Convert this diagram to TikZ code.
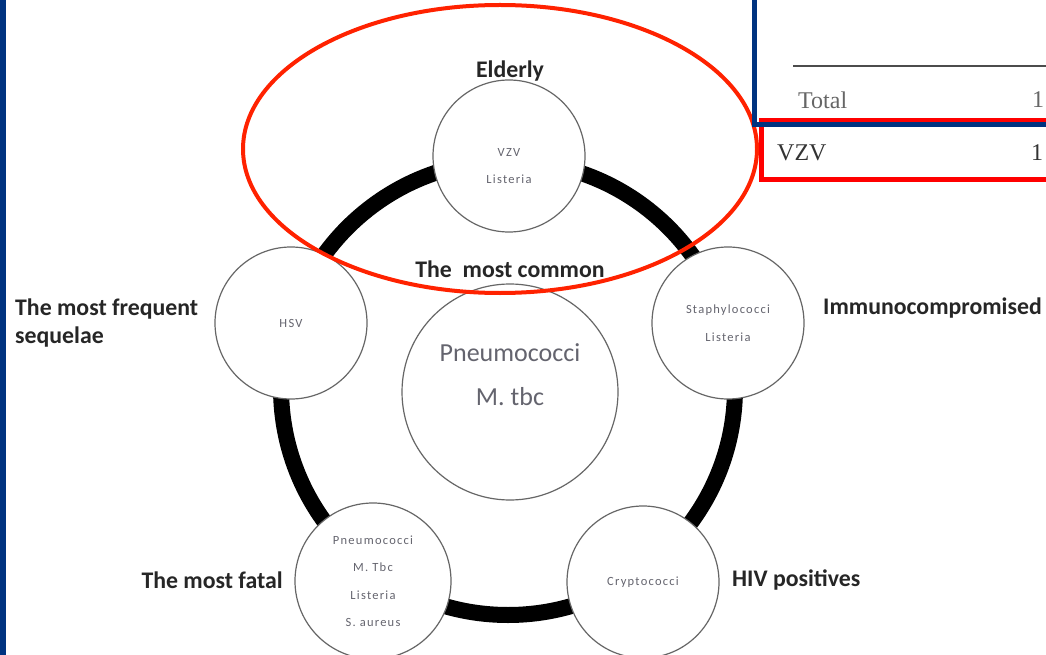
\documentclass[tikz,border=0pt]{standalone}
\usepackage{fontspec}
\setmainfont{Carlito}
\newfontfamily\tabfont{Liberation Serif}
\newfontfamily\smallfont[LetterSpace=10]{Carlito}
\definecolor{navy}{RGB}{0,51,128}
\definecolor{ellred}{RGB}{255,34,0}
\definecolor{boxred}{RGB}{255,0,0}
\definecolor{intext}{RGB}{100,100,110}
\begin{document}
\begin{tikzpicture}[x=1pt,y=-1pt,
  bub/.style={circle,draw=black!60,line width=1.2pt,fill=white,inner sep=0pt,minimum size=152pt,
    text=intext,align=center,font=\smallfont\fontsize{12.5}{27.5}\selectfont},
  bubtext/.style={text=intext,align=center,inner sep=0pt,font=\smallfont\fontsize{12.5}{27.5}\selectfont},
  bigbub/.style={bub,minimum size=216pt},
  lab/.style={font=\fontsize{23.8}{28}\bfseries\selectfont,text=black!85,inner sep=0pt},
  tab/.style={font=\tabfont\fontsize{24}{28}\selectfont,inner sep=0pt}]
\useasboundingbox (0,0) rectangle (1046,655);
\fill[white] (0,0) rectangle (1046,655);
% navy left border
\fill[navy] (0,0) rectangle (6,655);
% ring
\coordinate (ctr) at (508,388);
\draw[line width=16pt,black] (ctr) circle[radius=227];
% bubbles
\node[bub] (top) at (509,156) {};
\node[bubtext] (toptext) at (509,166) {VZV\\Listeria};
\node[bub] (rgt) at (728,323) {Staphylococci\\Listeria};
\node[bub] (brt) at (643,582) {Cryptococci};
\node[bub,minimum size=156pt] (blf) at (373,581) {Pneumococci\\M. Tbc\\Listeria\\S. aureus};
\node[bub] (lft) at (291,323) {HSV};
\node[bigbub] (mid) at (510,392) {};
\node[text=intext,font=\fontsize{26}{44}\selectfont,align=center,anchor=center] (midtext) at (510,375) {Pneumococci\\M. tbc};
% labels
\node[lab] (lelder) at (510,71) {Elderly};
\node[lab] (lcommon) at (510,269) {The\ \ most common};
\node[lab,anchor=west,align=left] (lseq) at (15,323) {The most frequent\\sequelae};
\node[lab,anchor=west] (limm) at (823,308) {Immunocompromised};
\node[lab,anchor=west] (lhiv) at (732,580) {HIV positives};
\node[lab,anchor=east] (lfatal) at (283,580) {The most fatal};
% red ellipse
\draw[ellred,line width=4pt] (500,149) ellipse[x radius=257,y radius=144];
% table fragment
\coordinate (ruleL) at (793,66);
\coordinate (ruleR) at (1046,66);
\draw[black!70,line width=1.5pt] (ruleL) -- (ruleR);
\node[tab,anchor=west,text=black!60] (total) at (798,100) {Total};
\node[tab,anchor=west,text=black!60] (totaln) at (1032,100) {1};
\draw[boxred,line width=5pt] (761,120.5) rectangle (1060,179.5);
\draw[navy,line width=5pt] (754,-5) -- (754,124.5) -- (1060,124.5);
\node[tab,anchor=west,text=black!80] (vzv) at (777,153) {VZV};
\node[tab,anchor=west,text=black!80] (vzvn) at (1031,153) {1};
\end{tikzpicture}
\end{document}
